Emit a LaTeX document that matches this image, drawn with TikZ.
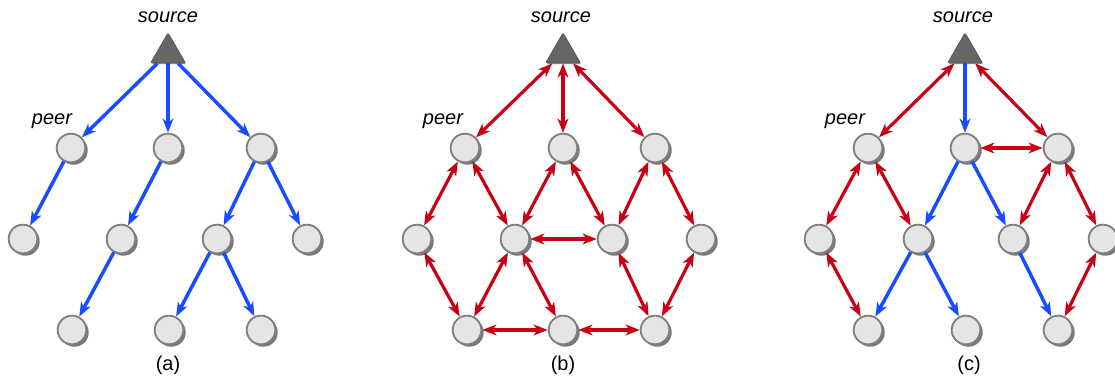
\documentclass[tikz,border=0pt]{standalone}
\usepackage{fontspec}
\setmainfont{Liberation Sans}
\usetikzlibrary{shapes.geometric,arrows.meta,shadows}
\definecolor{bl}{RGB}{25,75,255}
\definecolor{rd}{RGB}{200,0,20}
\definecolor{pfill}{RGB}{229,229,229}
\definecolor{pedge}{RGB}{128,128,128}
\definecolor{pshadow}{RGB}{120,120,120}
\definecolor{srcfill}{RGB}{102,102,102}
\begin{document}
\begin{tikzpicture}[x=0.75pt,y=-0.75pt,
  peer/.style={circle, minimum size=21.5pt, inner sep=0pt, fill=pfill, draw=pedge, line width=1.4pt,
    drop shadow={shadow xshift=1.8pt, shadow yshift=-1.8pt, fill=pshadow, opacity=1}},
  src/.style={regular polygon, regular polygon sides=3, minimum size=30pt, inner sep=0pt,
    fill=srcfill, draw=srcfill!85!black, line width=0.6pt, rounded corners=1pt,
    drop shadow={shadow xshift=0.8pt, shadow yshift=-0.8pt, fill=black!40, opacity=1}},
  lbl/.style={font=\fontsize{15pt}{17pt}\selectfont\itshape, inner sep=0pt},
  captxt/.style={font=\fontsize{15pt}{17pt}\selectfont, inner sep=0pt},
  tip/.tip={Stealth[length=10.5pt,width=8pt,inset=3pt]},
  ba/.style={draw=bl, line width=2.6pt, -tip},
  ra/.style={draw=rd, line width=2.4pt, tip-tip},
]
\useasboundingbox (0,0) rectangle (1115,377);

% ---------- panel (a) ----------
\node[src] (as) at (168,53) {};
\node[lbl] (asl) at (168,17) {source};
\node[peer] (a1) at (71,148) {};
\node[peer] (a2) at (168,148) {};
\node[peer] (a3) at (261,148) {};
\node[peer] (a4) at (23,239) {};
\node[peer] (a5) at (121,239) {};
\node[peer] (a6) at (217,239) {};
\node[peer] (a7) at (307,239) {};
\node[peer] (a8) at (72,330) {};
\node[peer] (a9) at (169,330) {};
\node[peer] (a10) at (261,330) {};
\node[lbl] (apl) at (52,121) {peer};
\node[captxt] (acap) at (168,365) {(a)};
\draw[ba] (as) -- (a1);
\draw[ba] (as) -- (a2);
\draw[ba] (as) -- (a3);
\draw[ba] (a1) -- (a4);
\draw[ba] (a2) -- (a5);
\draw[ba] (a5) -- (a8);
\draw[ba] (a3) -- (a6);
\draw[ba] (a3) -- (a7);
\draw[ba] (a6) -- (a9);
\draw[ba] (a6) -- (a10);

% ---------- panel (b) ----------
\node[src] (bs) at (563,53) {};
\node[lbl] (bsl) at (561,17) {source};
\node[peer] (b1) at (465,148) {};
\node[peer] (b2) at (563,148) {};
\node[peer] (b3) at (655,148) {};
\node[peer] (b4) at (417,239) {};
\node[peer] (b5) at (515,239) {};
\node[peer] (b6) at (612,239) {};
\node[peer] (b7) at (701,239) {};
\node[peer] (b8) at (467,330) {};
\node[peer] (b9) at (563,330) {};
\node[peer] (b10) at (655,330) {};
\node[lbl] (bpl) at (443,121) {peer};
\node[captxt] (bcap) at (563,365) {(b)};
\draw[ra] (bs) -- (b1);
\draw[ra] (bs) -- (b2);
\draw[ra] (bs) -- (b3);
\draw[ra] (b1) -- (b4);
\draw[ra] (b1) -- (b5);
\draw[ra] (b2) -- (b5);
\draw[ra] (b2) -- (b6);
\draw[ra] (b3) -- (b6);
\draw[ra] (b3) -- (b7);
\draw[ra] (b5) -- (b6);
\draw[ra] (b4) -- (b8);
\draw[ra] (b5) -- (b8);
\draw[ra] (b5) -- (b9);
\draw[ra] (b6) -- (b10);
\draw[ra] (b7) -- (b10);
\draw[ra] (b8) -- (b9);
\draw[ra] (b9) -- (b10);

% ---------- panel (c) ----------
\node[src] (cs) at (965,53) {};
\node[lbl] (csl) at (963,17) {source};
\node[peer] (c1) at (868,148) {};
\node[peer] (c2) at (965,148) {};
\node[peer] (c3) at (1058,148) {};
\node[peer] (c4) at (819,239) {};
\node[peer] (c5) at (918,239) {};
\node[peer] (c6) at (1013,239) {};
\node[peer] (c7) at (1103,239) {};
\node[peer] (c8) at (868,330) {};
\node[peer] (c9) at (966,330) {};
\node[peer] (c10) at (1058,330) {};
\node[lbl] (cpl) at (845,121) {peer};
\node[captxt] (ccap) at (969,365) {(c)};
\draw[ra] (cs) -- (c1);
\draw[ba] (cs) -- (c2);
\draw[ra] (cs) -- (c3);
\draw[ra] (c2) -- (c3);
\draw[ra] (c1) -- (c4);
\draw[ra] (c1) -- (c5);
\draw[ba] (c2) -- (c5);
\draw[ba] (c2) -- (c6);
\draw[ra] (c3) -- (c6);
\draw[ra] (c3) -- (c7);
\draw[ra] (c4) -- (c8);
\draw[ba] (c5) -- (c8);
\draw[ba] (c5) -- (c9);
\draw[ba] (c6) -- (c10);
\draw[ra] (c7) -- (c10);
\end{tikzpicture}
\end{document}
